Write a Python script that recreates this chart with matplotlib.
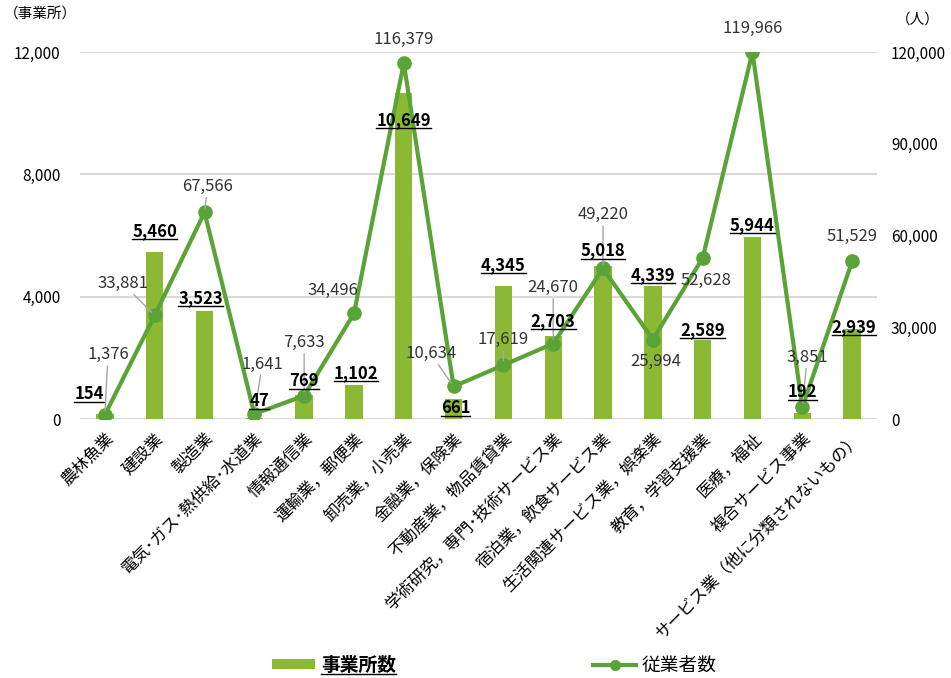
import matplotlib
matplotlib.use("Agg")
import matplotlib.pyplot as plt
from matplotlib.lines import Line2D
from matplotlib.patches import Patch

plt.rcParams['font.family'] = ['Noto Sans CJK JP', 'DejaVu Sans']

# 産業分類
categories = ['農林魚業', '建設業', '製造業', '電気･ガス･熱供給･水道業', '情報通信業',
              '運輸業，郵便業', '卸売業，小売業', '金融業，保険業', '不動産業，物品賃貸業',
              '学術研究，専門･技術サービス業', '宿泊業，飲食サービス業',
              '生活関連サービス業，娯楽業', '教育，学習支援業', '医療，福祉',
              '複合サービス事業', 'サービス業（他に分類されないもの）']
# 事業所数
offices = [154, 5460, 3523, 47, 769, 1102, 10649, 661, 4345, 2703, 5018, 4339, 2589, 5944, 192, 2939]
# 従業者数
employees = [1376, 33881, 67566, 1641, 7633, 34496, 116379, 10634, 17619, 24670,
             49220, 25994, 52628, 119966, 3851, 51529]

left_ticks = [0, 4000, 8000, 12000]
right_ticks = [0, 30000, 60000, 90000, 120000]

# ラベル位置の調整（ピクセル）
emp_dx = [3, -32, 3, 8, 0, -21, 0, -23, 0, 0, 0, 3, 3, 0, 5, 0]
emp_dy = [60, 32, 26, 50, 53, 23, 24, 33, 26, 56, 54, -22, -22, 24, 50, 25]
leader = [1, 1, 1, 1, 1, 0, 0, 1, 1, 1, 1, 0, 0, 0, 1, 0]
bar_dx = [-16, 0, -4, 5, 0, 2, 0, 2, 0, 0, 0, 0, 0, 0, 0, 2]
bar_dy = [20, 21, 13, 17, 14, 12, -27, -9, 21, 15, 15, 11, 10, 12, 21, 2]

bar_color = '#8cb934'
line_color = '#5aa336'

fig = plt.figure(figsize=(9.51, 6.78), dpi=100)
ax = fig.add_axes([80 / 951, 1 - 419 / 678, 797 / 951, 367 / 678])
ax2 = ax.twinx()

x = list(range(len(categories)))
ax.bar(x, offices, width=0.35, color=bar_color, zorder=2)
ax.set_ylim(0, 12000)
ax.set_yticks(left_ticks)
ax.set_yticklabels([f'{v:,}' for v in left_ticks], fontsize=11)
ax.grid(axis='y', color='#d9d9d9', lw=1.5, zorder=0)
ax.set_axisbelow(True)
ax.set_xlim(-0.5, len(categories) - 0.5)
ax.set_xticks(x)
ax.set_xticklabels(categories, rotation=45, ha='right', rotation_mode='anchor', fontsize=12)
ax.tick_params(axis='both', length=0)
ax.tick_params(axis='y', pad=14)
ax.tick_params(axis='x', pad=8)

ax2.plot(x, employees, color=line_color, lw=3, marker='o', ms=9.5, zorder=3)
ax2.set_ylim(0, 120000)
ax2.set_yticks(right_ticks)
ax2.set_yticklabels([f'{v:,}' for v in right_ticks], fontsize=11)
ax2.tick_params(axis='y', length=0, pad=10)

for a in (ax, ax2):
    for s in a.spines.values():
        s.set_visible(False)

for i, v in enumerate(employees):
    kw = {}
    if leader[i]:
        kw['arrowprops'] = dict(arrowstyle='-', color='#a6a6a6', lw=1, shrinkA=0, shrinkB=3)
    ax2.annotate(f'{v:,}', xy=(i, v), xytext=(emp_dx[i], emp_dy[i]),
                 textcoords='offset pixels', ha='center', va='center',
                 fontsize=12, color='#333333', zorder=5, **kw)

under = []
for i, v in enumerate(offices):
    t = ax2.annotate(f'{v:,}', xy=(i, v), xycoords=ax.transData,
                     xytext=(bar_dx[i], bar_dy[i]), textcoords='offset pixels',
                     ha='center', va='center', fontsize=12, fontweight='bold',
                     color='black', zorder=6)
    under.append(t)

fig.text(4 / 951, 1 - 15 / 678, '（事業所）', ha='left', va='center', fontsize=10.5)
fig.text(918 / 951, 1 - 20 / 678, '（人）', ha='center', va='center', fontsize=10.5)

handles = [Patch(facecolor=bar_color, edgecolor='none'),
           Line2D([], [], color=line_color, lw=3, marker='o', ms=7)]
leg = fig.legend(handles, ['事業所数', '従業者数'], loc='center', bbox_to_anchor=(0.52, 1 - 665 / 678),
                 ncol=2, frameon=False, columnspacing=10.5, handlelength=2.3, handleheight=0.5,
                 handletextpad=0.3, fontsize=13.5)
leg.get_texts()[0].set_fontweight('bold')
under.append(leg.get_texts()[0])

# 下線
fig.canvas.draw()
r = fig.canvas.get_renderer()
inv = fig.transFigure.inverted()
for t in under:
    bb = t.get_window_extent(r)
    (x0, y0), (x1, _) = inv.transform([(bb.x0, bb.y0 + 1), (bb.x1, bb.y0 + 1)])
    fig.add_artist(Line2D([x0, x1], [y0, y0], color='black', lw=1, zorder=10))

fig.savefig('out.png', dpi=100)
